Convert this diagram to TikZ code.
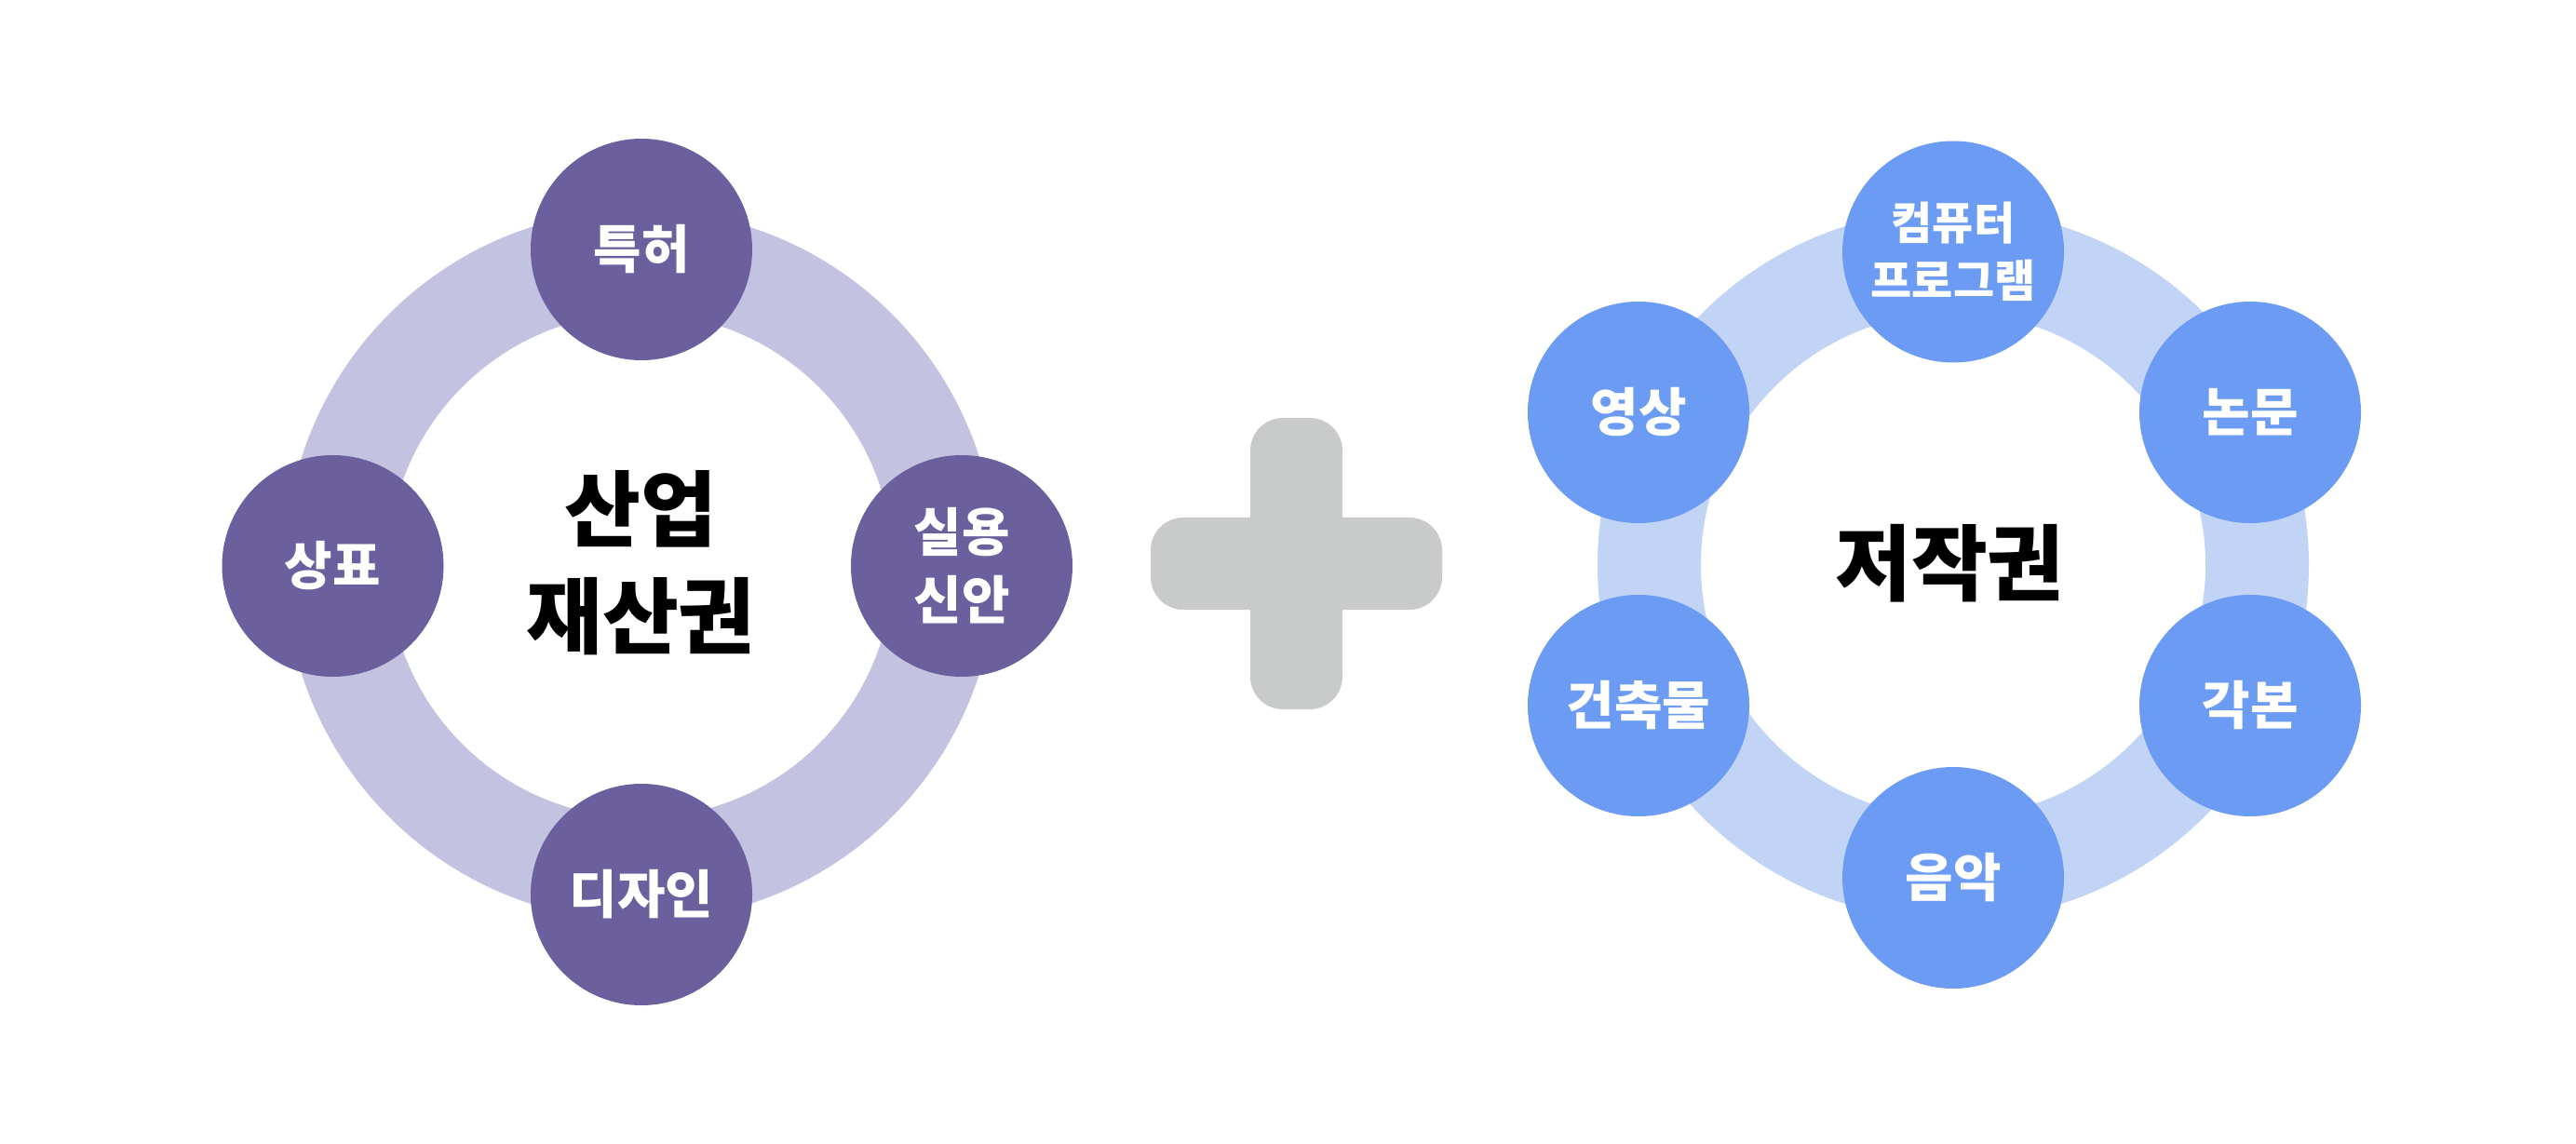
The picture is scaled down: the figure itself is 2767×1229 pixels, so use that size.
\documentclass[tikz,border=0pt]{standalone}
\usepackage{fontspec}
\setmainfont{Noto Sans CJK KR}
\definecolor{pnodecol}{RGB}{107,95,158}
\definecolor{pringcol}{RGB}{196,194,225}
\definecolor{bnodecol}{RGB}{107,155,242}
\definecolor{bringcol}{RGB}{194,212,245}
\definecolor{pluscol}{RGB}{201,203,202}
\begin{document}
\begin{tikzpicture}[x=0.5pt,y=-0.5pt,
  ringp/.style={draw=pringcol,line width=55.5pt},
  ringb/.style={draw=bringcol,line width=55.5pt},
  itembase/.style={circle,minimum size=119pt,inner sep=0pt,text=white,align=center,
    font=\fontsize{28pt}{36.5pt}\selectfont\bfseries},
  pitem/.style={itembase,fill=pnodecol},
  bitem/.style={itembase,fill=bnodecol},
  smalltext/.style={font=\fontsize{24pt}{31pt}\selectfont\bfseries},
  centertext/.style={inner sep=0pt,align=center,text=black,
    font=\fontsize{44.5pt}{57.5pt}\selectfont\bfseries}]
\useasboundingbox (0,0) rectangle (2767,1229);
% left ring
\coordinate (lc) at (688,607.5);
\draw[ringp] (lc) circle[radius=163.25pt];
\node[pitem] (tuk) at (689,268) {특허};
\node[pitem] (sang) at (357.5,608) {상표};
\node[pitem] (sil) at (1033,608) {실용\\신안};
\node[pitem] (di) at (689,961) {디자인};
\node[centertext] (sanup) at (688,605) {산업\\재산권};
% plus sign
\fill[pluscol,rounded corners=17.5pt] (1343,449) rectangle (1442,762);
\fill[pluscol,rounded corners=17.5pt] (1236,556) rectangle (1549,655);
% right ring
\coordinate (rc) at (2098,607);
\draw[ringb] (rc) circle[radius=163.25pt];
\node[bitem,smalltext] (com) at (2098,270.5) {컴퓨터\\프로그램};
\node[bitem] (young) at (1760,443) {영상};
\node[bitem] (non) at (2417,443) {논문};
\node[bitem] (geon) at (1760,758) {건축물};
\node[bitem] (gak) at (2417,758) {각본};
\node[bitem] (eum) at (2098,943) {음악};
\node[centertext] (jeo) at (2094,605) {저작권};
\end{tikzpicture}
\end{document}
